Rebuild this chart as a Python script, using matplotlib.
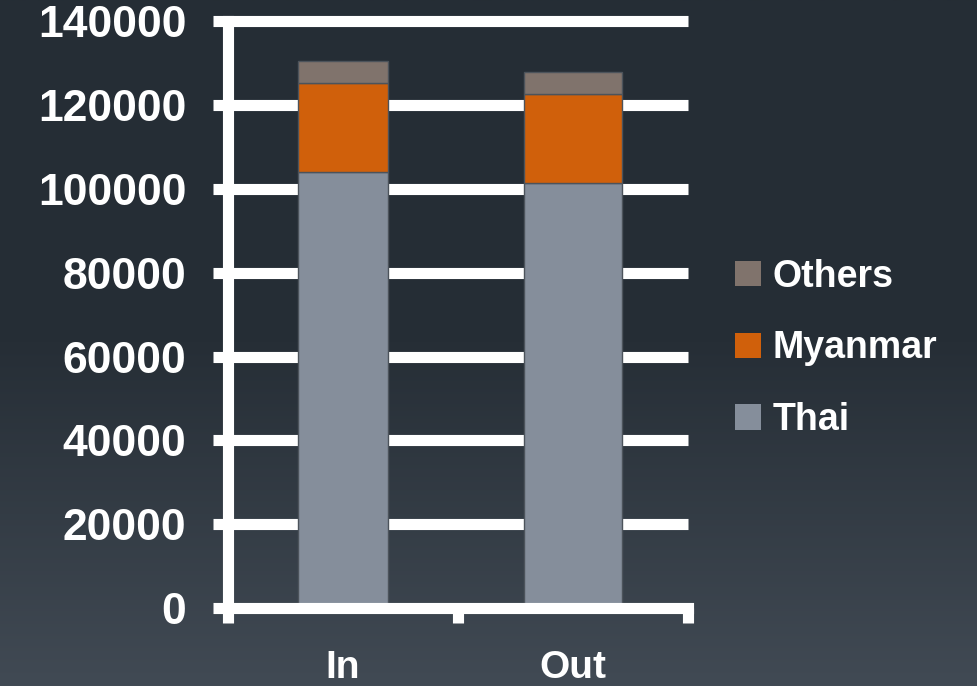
import matplotlib.pyplot as plt
import numpy as np
from matplotlib.colors import LinearSegmentedColormap

# Data
categories = ['In', 'Out']
thai = [104100, 101400]
myanmar = [21200, 21300]
others = [5300, 5300]
yticks = [0, 20000, 40000, 60000, 80000, 100000, 120000, 140000]
ytick_labels = ['0', '20000', '40000', '60000', '80000', '100000', '120000', '140000']

plt.rcParams['font.family'] = ['Liberation Sans', 'DejaVu Sans']

c_thai = '#858e9b'
c_myan = '#d0600b'
c_oth = '#80736c'
edge = '#4c535b'
white = 'white'

fig = plt.figure(figsize=(9.78, 6.86), dpi=100)

# gradient background
bg = fig.add_axes([0, 0, 1, 1], zorder=0)
grad = np.linspace(0, 1, 256).reshape(-1, 1)
cmap = LinearSegmentedColormap.from_list('bg', ['#252d35', '#262e36', '#414a54'])
bg.imshow(grad, aspect='auto', cmap=cmap, extent=[0, 1, 0, 1], origin='upper')
bg.axis('off')

ax = fig.add_axes([0.2331, 0.1137, 0.4704, 0.8553], zorder=1)
ax.set_facecolor('none')

x = np.arange(len(categories))
widths = [0.39, 0.43]
b1 = ax.bar(x, thai, widths, color=c_thai, edgecolor=edge, linewidth=1, label='Thai', zorder=3)
b2 = ax.bar(x, myanmar, widths, bottom=thai, color=c_myan, edgecolor=edge, linewidth=1,
            label='Myanmar', zorder=3)
bottom2 = [a + b for a, b in zip(thai, myanmar)]
b3 = ax.bar(x, others, widths, bottom=bottom2, color=c_oth, edgecolor=edge, linewidth=1,
            label='Others', zorder=3)

ax.set_xlim(-0.5, 1.5)
ax.set_ylim(0, 140000)

# gridlines (thick white), drawn behind bars
ax.hlines(yticks[1:], -0.5, 1.5, colors=white, linewidth=8, zorder=1, clip_on=False)

for side in ['top', 'right']:
    ax.spines[side].set_visible(False)
for side in ['left', 'bottom']:
    ax.spines[side].set_color(white)
    ax.spines[side].set_linewidth(8)
    ax.spines[side].set_zorder(4)

ax.set_yticks(yticks)
ax.set_yticklabels(ytick_labels)
ax.tick_params(axis='y', colors=white, length=11, width=8, pad=19, labelsize=32)

ax.set_xticks(x)
ax.set_xticklabels(categories)
ax.set_xticks([-0.5, 0.5, 1.5], minor=True)
ax.tick_params(axis='x', which='major', length=0, pad=30, colors=white, labelsize=28)
ax.tick_params(axis='x', which='minor', length=11, width=8, color=white)
for lbl in ax.get_xticklabels() + ax.get_yticklabels():
    lbl.set_fontweight('bold')

handles = [b3, b2, b1]
leg = fig.legend(handles, [h.get_label() for h in handles], loc='center left',
                 bbox_to_anchor=(0.752, 0.492), frameon=False, fontsize=27,
                 handlelength=0.67, handleheight=0.67, handletextpad=0.32,
                 labelspacing=0.95, borderpad=0, borderaxespad=0)
for t in leg.get_texts():
    t.set_color(white)
    t.set_fontweight('bold')
for p in leg.get_patches():
    p.set_edgecolor('none')

fig.savefig('out.png', dpi=100)
